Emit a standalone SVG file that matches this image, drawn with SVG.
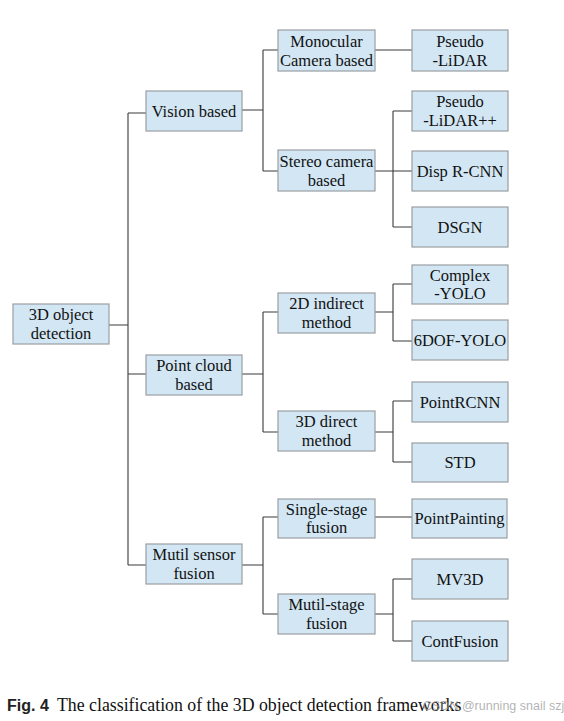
<svg xmlns="http://www.w3.org/2000/svg" width="564" height="721" viewBox="0 0 564 721">
<style>
.box{fill:#d2e6f4;stroke:#9a9fa3;stroke-width:1.2}
.t{font-size:16.5px;fill:#111;text-anchor:middle}
.c{fill:none;stroke:#3a3a3a;stroke-width:1.1}
</style>
<rect width="564" height="721" fill="#fff"/>
<g id="connectors" class="c">
<path d="M109 325H128M128 113V565M128 113H146M128 374H146M128 565H146"/>
<path d="M242 110H263M263 50V171M263 50H278M263 171H278"/>
<path d="M375 50H412"/>
<path d="M375 171H412M393 111V227M393 111H412M393 227H412"/>
<path d="M242 374H263M263 312V432M263 312H278M263 432H278"/>
<path d="M375 312H393M393 284V341M393 284H412M393 341H412"/>
<path d="M375 432H393M393 401V462M393 401H412M393 462H412"/>
<path d="M242 565H263M263 517V614M263 517H278M263 614H278"/>
<path d="M375 517H412"/>
<path d="M375 614H393M393 579V641M393 579H412M393 641H412"/>
</g>
<g id="nodes" font-family="Liberation Serif, Times New Roman, serif">
<g id="root"><rect class="box" x="13" y="304" width="96" height="40"/><text class="t" x="61" y="320">3D object</text><text class="t" x="61" y="339">detection</text></g>
<g id="vision"><rect class="box" x="146" y="91" width="96" height="40"/><text class="t" x="194" y="117">Vision based</text></g>
<g id="pointcloud"><rect class="box" x="146" y="355" width="96" height="40"/><text class="t" x="194" y="371">Point cloud</text><text class="t" x="194" y="390">based</text></g>
<g id="multisensor"><rect class="box" x="146" y="544" width="96" height="40"/><text class="t" x="194" y="560">Mutil sensor</text><text class="t" x="194" y="579">fusion</text></g>
<g id="monocular"><rect class="box" x="278" y="30" width="97" height="41"/><text class="t" x="326.5" y="47">Monocular</text><text class="t" x="326.5" y="66">Camera based</text></g>
<g id="stereo"><rect class="box" x="278" y="150" width="97" height="41"/><text class="t" x="326.5" y="167">Stereo camera</text><text class="t" x="326.5" y="186">based</text></g>
<g id="indirect2d"><rect class="box" x="278" y="293" width="97" height="40"/><text class="t" x="326.5" y="309">2D indirect</text><text class="t" x="326.5" y="328">method</text></g>
<g id="direct3d"><rect class="box" x="278" y="411" width="97" height="40"/><text class="t" x="326.5" y="427">3D direct</text><text class="t" x="326.5" y="446">method</text></g>
<g id="singlestage"><rect class="box" x="278" y="499" width="97" height="39"/><text class="t" x="326.5" y="515">Single-stage</text><text class="t" x="326.5" y="533">fusion</text></g>
<g id="multistage"><rect class="box" x="278" y="594" width="97" height="40"/><text class="t" x="326.5" y="610">Mutil-stage</text><text class="t" x="326.5" y="629">fusion</text></g>
<g id="pseudolidar"><rect class="box" x="412" y="30" width="96" height="41"/><text class="t" x="460" y="47">Pseudo</text><text class="t" x="460" y="66">-LiDAR</text></g>
<g id="pseudolidarpp"><rect class="box" x="412" y="91" width="96" height="40"/><text class="t" x="460" y="107">Pseudo</text><text class="t" x="460" y="126">-LiDAR++</text></g>
<g id="disprcnn"><rect class="box" x="412" y="151" width="96" height="40"/><text class="t" x="460" y="177">Disp R-CNN</text></g>
<g id="dsgn"><rect class="box" x="412" y="207" width="96" height="40"/><text class="t" x="460" y="233">DSGN</text></g>
<g id="complexyolo"><rect class="box" x="412" y="265" width="96" height="39"/><text class="t" x="460" y="281">Complex</text><text class="t" x="460" y="299">-YOLO</text></g>
<g id="6dofyolo"><rect class="box" x="412" y="320" width="96" height="40"/><text class="t" x="460" y="346">6DOF-YOLO</text></g>
<g id="pointrcnn"><rect class="box" x="412" y="382" width="96" height="40"/><text class="t" x="460" y="408">PointRCNN</text></g>
<g id="std"><rect class="box" x="412" y="443" width="96" height="39"/><text class="t" x="460" y="468">STD</text></g>
<g id="pointpainting"><rect class="box" x="412" y="499" width="95" height="39"/><text class="t" x="459.5" y="524">PointPainting</text></g>
<g id="mv3d"><rect class="box" x="412" y="559" width="96" height="40"/><text class="t" x="460" y="585">MV3D</text></g>
<g id="contfusion"><rect class="box" x="412" y="621" width="96" height="40"/><text class="t" x="460" y="647">ContFusion</text></g>
</g>
<g id="caption">
<text x="7" y="711" font-family="Liberation Sans, Arial, sans-serif" font-size="16" font-weight="bold" fill="#222">Fig. 4</text>
<text x="57" y="711" font-family="Liberation Serif, Times New Roman, serif" font-size="17.8" fill="#111">The classification of the 3D object detection frameworks</text>
<text x="423" y="710" font-family="Liberation Sans, Arial, sans-serif" font-size="12.5" fill="#999" fill-opacity="0.75">CSDN @running snail szj</text>
</g>
</svg>
